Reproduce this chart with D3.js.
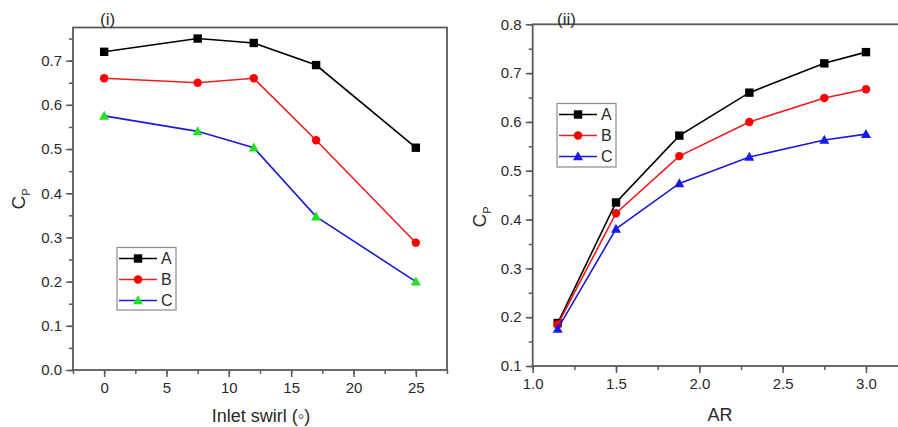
<!DOCTYPE html>
<html>
<head>
<meta charset="utf-8">
<script src="https://cdn.jsdelivr.net/npm/d3@7"></script>
<style>
  html, body { margin: 0; padding: 0; background: #fff; }
  svg { display: block; font-family: "Liberation Sans", Arial, Helvetica, sans-serif; }
</style>
</head>
<body>
<svg id="chart" width="898" height="427"></svg>
<script>
// Panel (i): power coefficient against inlet swirl angle
const swirl = [0, 7.5, 12, 17, 25];
const swirlA = [0.72, 0.75, 0.74, 0.69, 0.503];
const swirlB = [0.66, 0.65, 0.66, 0.52, 0.288];
const swirlC = [0.575, 0.54, 0.503, 0.347, 0.2];
const swirlTicks = [0, 5, 10, 15, 20, 25];
const swirlCpTicks = [0.0, 0.1, 0.2, 0.3, 0.4, 0.5, 0.6, 0.7];

// Panel (ii): power coefficient against aspect ratio
const ar = [1.15, 1.5, 1.88, 2.3, 2.75, 3.0];
const arA = [0.188, 0.435, 0.572, 0.66, 0.72, 0.743];
const arB = [0.185, 0.413, 0.53, 0.6, 0.649, 0.667];
const arC = [0.176, 0.381, 0.474, 0.528, 0.563, 0.575];
const arTicks = [1.0, 1.5, 2.0, 2.5, 3.0];
const arCpTicks = [0.1, 0.2, 0.3, 0.4, 0.5, 0.6, 0.7, 0.8];

const seriesNames = ["A", "B", "C"];

const svg = d3.select("#chart");
const frameColor = "#5a5a5a";
const textColor = "#2a2a2a";

function drawPanel(cfg) {
  const x = d3.scaleLinear().domain(cfg.xDomain).range([cfg.left, cfg.right]);
  const y = d3.scaleLinear().domain(cfg.yDomain).range([cfg.bottom, cfg.top]);
  const g = svg.append("g");

  // minor ticks
  const xMinor = d3.range(cfg.xDomain[0], cfg.xDomain[1] + 1e-9, cfg.xMinorStep);
  const yMinor = d3.range(cfg.yDomain[0], cfg.yDomain[1] + 1e-9, cfg.yMinorStep);
  g.append("g")
    .attr("transform", `translate(0,${cfg.bottom})`)
    .call(d3.axisBottom(x).tickValues(xMinor).tickSize(4).tickFormat(""))
    .call(a => a.select(".domain").remove())
    .call(a => a.selectAll("line").attr("stroke", frameColor).attr("stroke-width", 1.5));
  g.append("g")
    .attr("transform", `translate(${cfg.left},0)`)
    .call(d3.axisLeft(y).tickValues(yMinor).tickSize(4).tickFormat(""))
    .call(a => a.select(".domain").remove())
    .call(a => a.selectAll("line").attr("stroke", frameColor).attr("stroke-width", 1.5));

  // major ticks with labels
  g.append("g")
    .attr("transform", `translate(0,${cfg.bottom})`)
    .call(d3.axisBottom(x).tickValues(cfg.xTicks).tickSize(7).tickPadding(5).tickFormat(cfg.xFormat))
    .call(a => a.select(".domain").remove())
    .call(a => a.selectAll("line").attr("stroke", frameColor).attr("stroke-width", 1.5))
    .call(a => a.selectAll("text").attr("fill", textColor).style("font-size", "15px")
      .style("font-family", '"Liberation Sans", Arial, sans-serif'));
  g.append("g")
    .attr("transform", `translate(${cfg.left},0)`)
    .call(d3.axisLeft(y).tickValues(cfg.yTicks).tickSize(7).tickPadding(4).tickFormat(d3.format(".1f")))
    .call(a => a.select(".domain").remove())
    .call(a => a.selectAll("line").attr("stroke", frameColor).attr("stroke-width", 1.5))
    .call(a => a.selectAll("text").attr("fill", textColor).style("font-size", "15px")
      .style("font-family", '"Liberation Sans", Arial, sans-serif'));

  // frame
  g.append("rect")
    .attr("x", cfg.left).attr("y", cfg.top)
    .attr("width", cfg.right - cfg.left).attr("height", cfg.bottom - cfg.top)
    .attr("fill", "none").attr("stroke", frameColor).attr("stroke-width", 1.8);

  // series
  const line = d3.line().x(d => x(d[0])).y(d => y(d[1]));
  cfg.series.forEach(s => {
    const pts = cfg.xs.map((v, i) => [v, s.values[i]]);
    g.append("path").datum(pts)
      .attr("d", line).attr("fill", "none")
      .attr("stroke", s.color).attr("stroke-width", 1.6);
    g.selectAll(null).data(pts).enter().append("path")
      .attr("transform", d => `translate(${x(d[0])},${y(d[1])})`)
      .attr("d", markerPath(s.shape))
      .attr("fill", s.fill);
  });

  // legend
  const L = cfg.legend;
  g.append("rect")
    .attr("x", L.x).attr("y", L.y).attr("width", L.w).attr("height", L.h)
    .attr("fill", "#fff").attr("stroke", "#8a8a8a").attr("stroke-width", 1.2);
  cfg.series.forEach((s, i) => {
    const cy = L.y + 11 + i * 21;
    g.append("line")
      .attr("x1", L.x + 2).attr("x2", L.x + 40).attr("y1", cy).attr("y2", cy)
      .attr("stroke", s.color).attr("stroke-width", 1.6);
    g.append("path")
      .attr("transform", `translate(${L.x + 21},${cy})`)
      .attr("d", markerPath(s.shape)).attr("fill", s.fill);
    g.append("text")
      .attr("x", L.x + 44).attr("y", cy + 5.5)
      .attr("fill", textColor).style("font-size", "16px")
      .text(seriesNames[i]);
  });

  // panel tag
  g.append("text")
    .attr("x", cfg.tag.x).attr("y", cfg.tag.y)
    .attr("fill", textColor).style("font-size", "17px")
    .text(cfg.tag.text);

  // x title
  g.append("text")
    .attr("x", cfg.xTitle.x).attr("y", cfg.xTitle.y)
    .attr("text-anchor", "middle")
    .attr("fill", textColor).style("font-size", "18px")
    .text(cfg.xTitle.text);

  // y title C_P
  const yt = g.append("text")
    .attr("transform", `translate(${cfg.yTitle.x},${cfg.yTitle.y}) rotate(-90)`)
    .attr("text-anchor", "middle")
    .attr("fill", textColor);
  yt.append("tspan").style("font-size", "19px").text("C");
  yt.append("tspan").style("font-size", "11px").attr("dy", 5).text("P");
}

function markerPath(shape) {
  if (shape === "square") return "M-4.2,-4.2H4.2V4.2H-4.2Z";
  if (shape === "circle") return d3.symbol(d3.symbolCircle, 56)();
  return "M0,-5.2L5,3.8H-5Z";
}

drawPanel({
  left: 73, right: 447, top: 27.5, bottom: 370,
  xDomain: [-2.5, 27.5], yDomain: [0, 0.775],
  xMinorStep: 2.5, yMinorStep: 0.05,
  xTicks: swirlTicks, yTicks: swirlCpTicks,
  xFormat: d3.format("d"),
  xs: swirl,
  series: [
    { values: swirlA, color: "#000", fill: "#000", shape: "square" },
    { values: swirlB, color: "#f21b1b", fill: "#ff0000", shape: "circle" },
    { values: swirlC, color: "#1a1ad8", fill: "#22e022", shape: "triangle" }
  ],
  legend: { x: 117, y: 247.5, w: 59, h: 62.5 },
  tag: { x: 100, y: 25, text: "(i)" },
  xTitle: { x: 261, y: 422, text: "Inlet swirl (◦)" },
  yTitle: { x: 25, y: 199 }
});

drawPanel({
  left: 532.7, right: 899.3, top: 24.3, bottom: 366,
  xDomain: [1.0, 3.2], yDomain: [0.1, 0.8],
  xMinorStep: 0.25, yMinorStep: 0.05,
  xTicks: arTicks, yTicks: arCpTicks,
  xFormat: d3.format(".1f"),
  xs: ar,
  series: [
    { values: arA, color: "#000", fill: "#000", shape: "square" },
    { values: arB, color: "#f21b1b", fill: "#ff0000", shape: "circle" },
    { values: arC, color: "#1a1ad8", fill: "#1a1ae8", shape: "triangle" }
  ],
  legend: { x: 557, y: 103.5, w: 59, h: 63.5 },
  tag: { x: 557, y: 25, text: "(ii)" },
  xTitle: { x: 720, y: 421, text: "AR" },
  yTitle: { x: 486, y: 217 }
});
</script>
</body>
</html>
